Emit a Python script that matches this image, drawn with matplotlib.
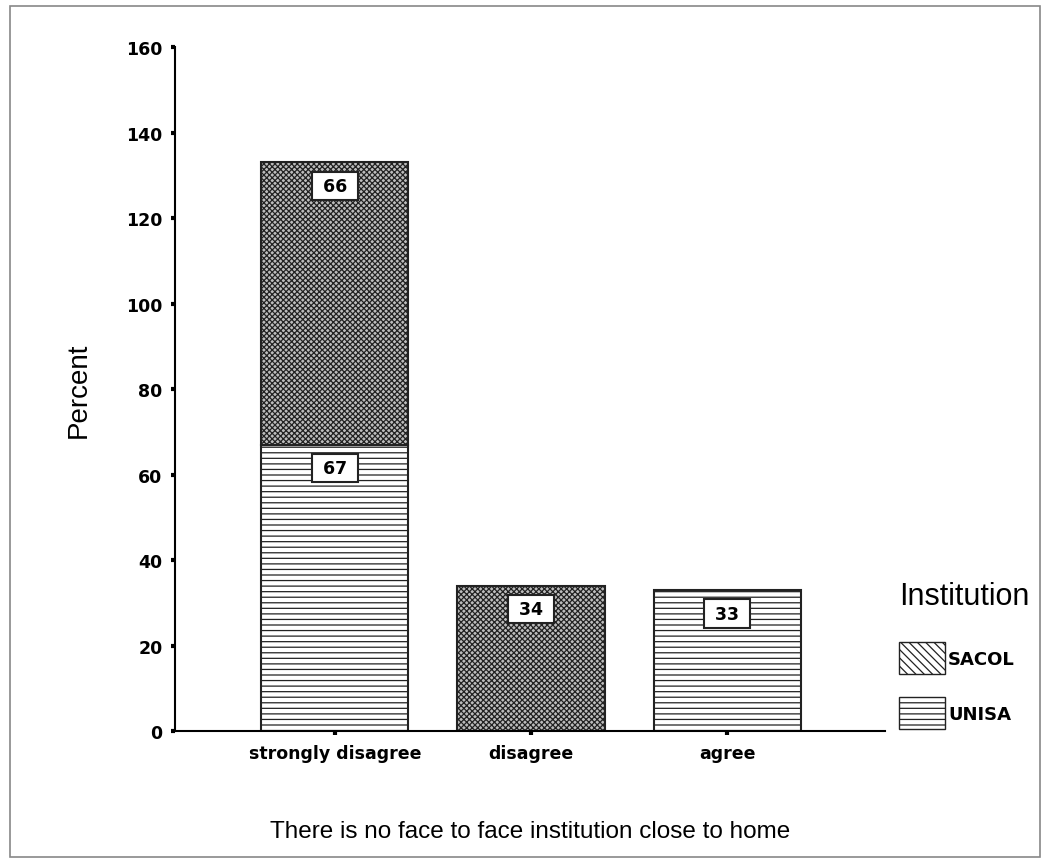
import matplotlib.pyplot as plt
from matplotlib.patches import Patch, Rectangle

plt.rcParams['font.family'] = ['Liberation Sans', 'DejaVu Sans']
plt.rcParams['hatch.linewidth'] = 0.9

categories = ['strongly disagree', 'disagree', 'agree']
unisa = [67, 0, 33]
sacol = [66, 34, 0]
yticks = [0, 20, 40, 60, 80, 100, 120, 140, 160]

# heavy face for ticks, legend entries and value boxes
heavy = {'family': 'DejaVu Sans', 'weight': 'bold', 'size': 12.5}

fig = plt.figure(figsize=(10.46, 8.62), dpi=100)
ax = fig.add_axes([0.1673, 0.1508, 0.6788, 0.7935])

w = 0.75
pos = list(range(len(categories)))


def tag(xi, top, val):
    ax.annotate(' %d ' % val, (xi, top), xytext=(0, -17), textcoords='offset points',
                ha='center', va='center', **heavy,
                bbox=dict(boxstyle='square,pad=0.3', fc='white', ec='#222222', lw=1.5))


# UNISA at the bottom, SACOL stacked on top; empty segments are skipped
for i in pos:
    if unisa[i]:
        ax.bar(i, unisa[i], w, color='white', edgecolor='#222222', hatch='---', linewidth=1.5)
    if sacol[i]:
        ax.bar(i, sacol[i], w, bottom=unisa[i], color='#bdbdbd', edgecolor='#222222',
               hatch='xxxxxx', linewidth=1.5)
for i in pos:
    if unisa[i]:
        tag(i, unisa[i], unisa[i])
    if sacol[i]:
        tag(i, unisa[i] + sacol[i], sacol[i])

ax.set_xlim(-0.816, 2.806)
ax.set_ylim(0, 160)
ax.set_yticks(yticks)
ax.set_yticklabels([str(t) for t in yticks], fontdict=heavy)
ax.set_xticks(pos)
ax.set_xticklabels(categories, fontdict=heavy)
ax.tick_params(axis='both', direction='out', length=3, width=3, pad=6)
ax.spines['top'].set_visible(False)
ax.spines['right'].set_visible(False)
ax.spines['left'].set_linewidth(1.5)
ax.spines['bottom'].set_linewidth(1.5)
ax.set_ylabel('Percent', fontsize=20, labelpad=25)
ax.set_xlabel('There is no face to face institution close to home', fontsize=17.5, labelpad=42)

handles = [Patch(facecolor='white', edgecolor='#222222', hatch='\\\\\\\\', label='SACOL'),
           Patch(facecolor='white', edgecolor='#222222', hatch='---', label='UNISA')]
leg = fig.legend(handles=handles, title='Institution', loc='upper left',
                 bbox_to_anchor=(0.853, 0.333), frameon=False,
                 prop={'family': 'DejaVu Sans', 'weight': 'bold', 'size': 13},
                 title_fontsize=22,
                 handlelength=2.5, handleheight=2.4, handletextpad=0.2,
                 labelspacing=1.25, borderaxespad=0)
leg._legend_box.align = 'left'
leg._legend_box.sep = 22

fig.patches.append(Rectangle((0.0095, 0.005), 0.985, 0.987, transform=fig.transFigure,
                             fill=False, edgecolor='#888888', linewidth=1.2))

fig.savefig('out.png', dpi=100)
